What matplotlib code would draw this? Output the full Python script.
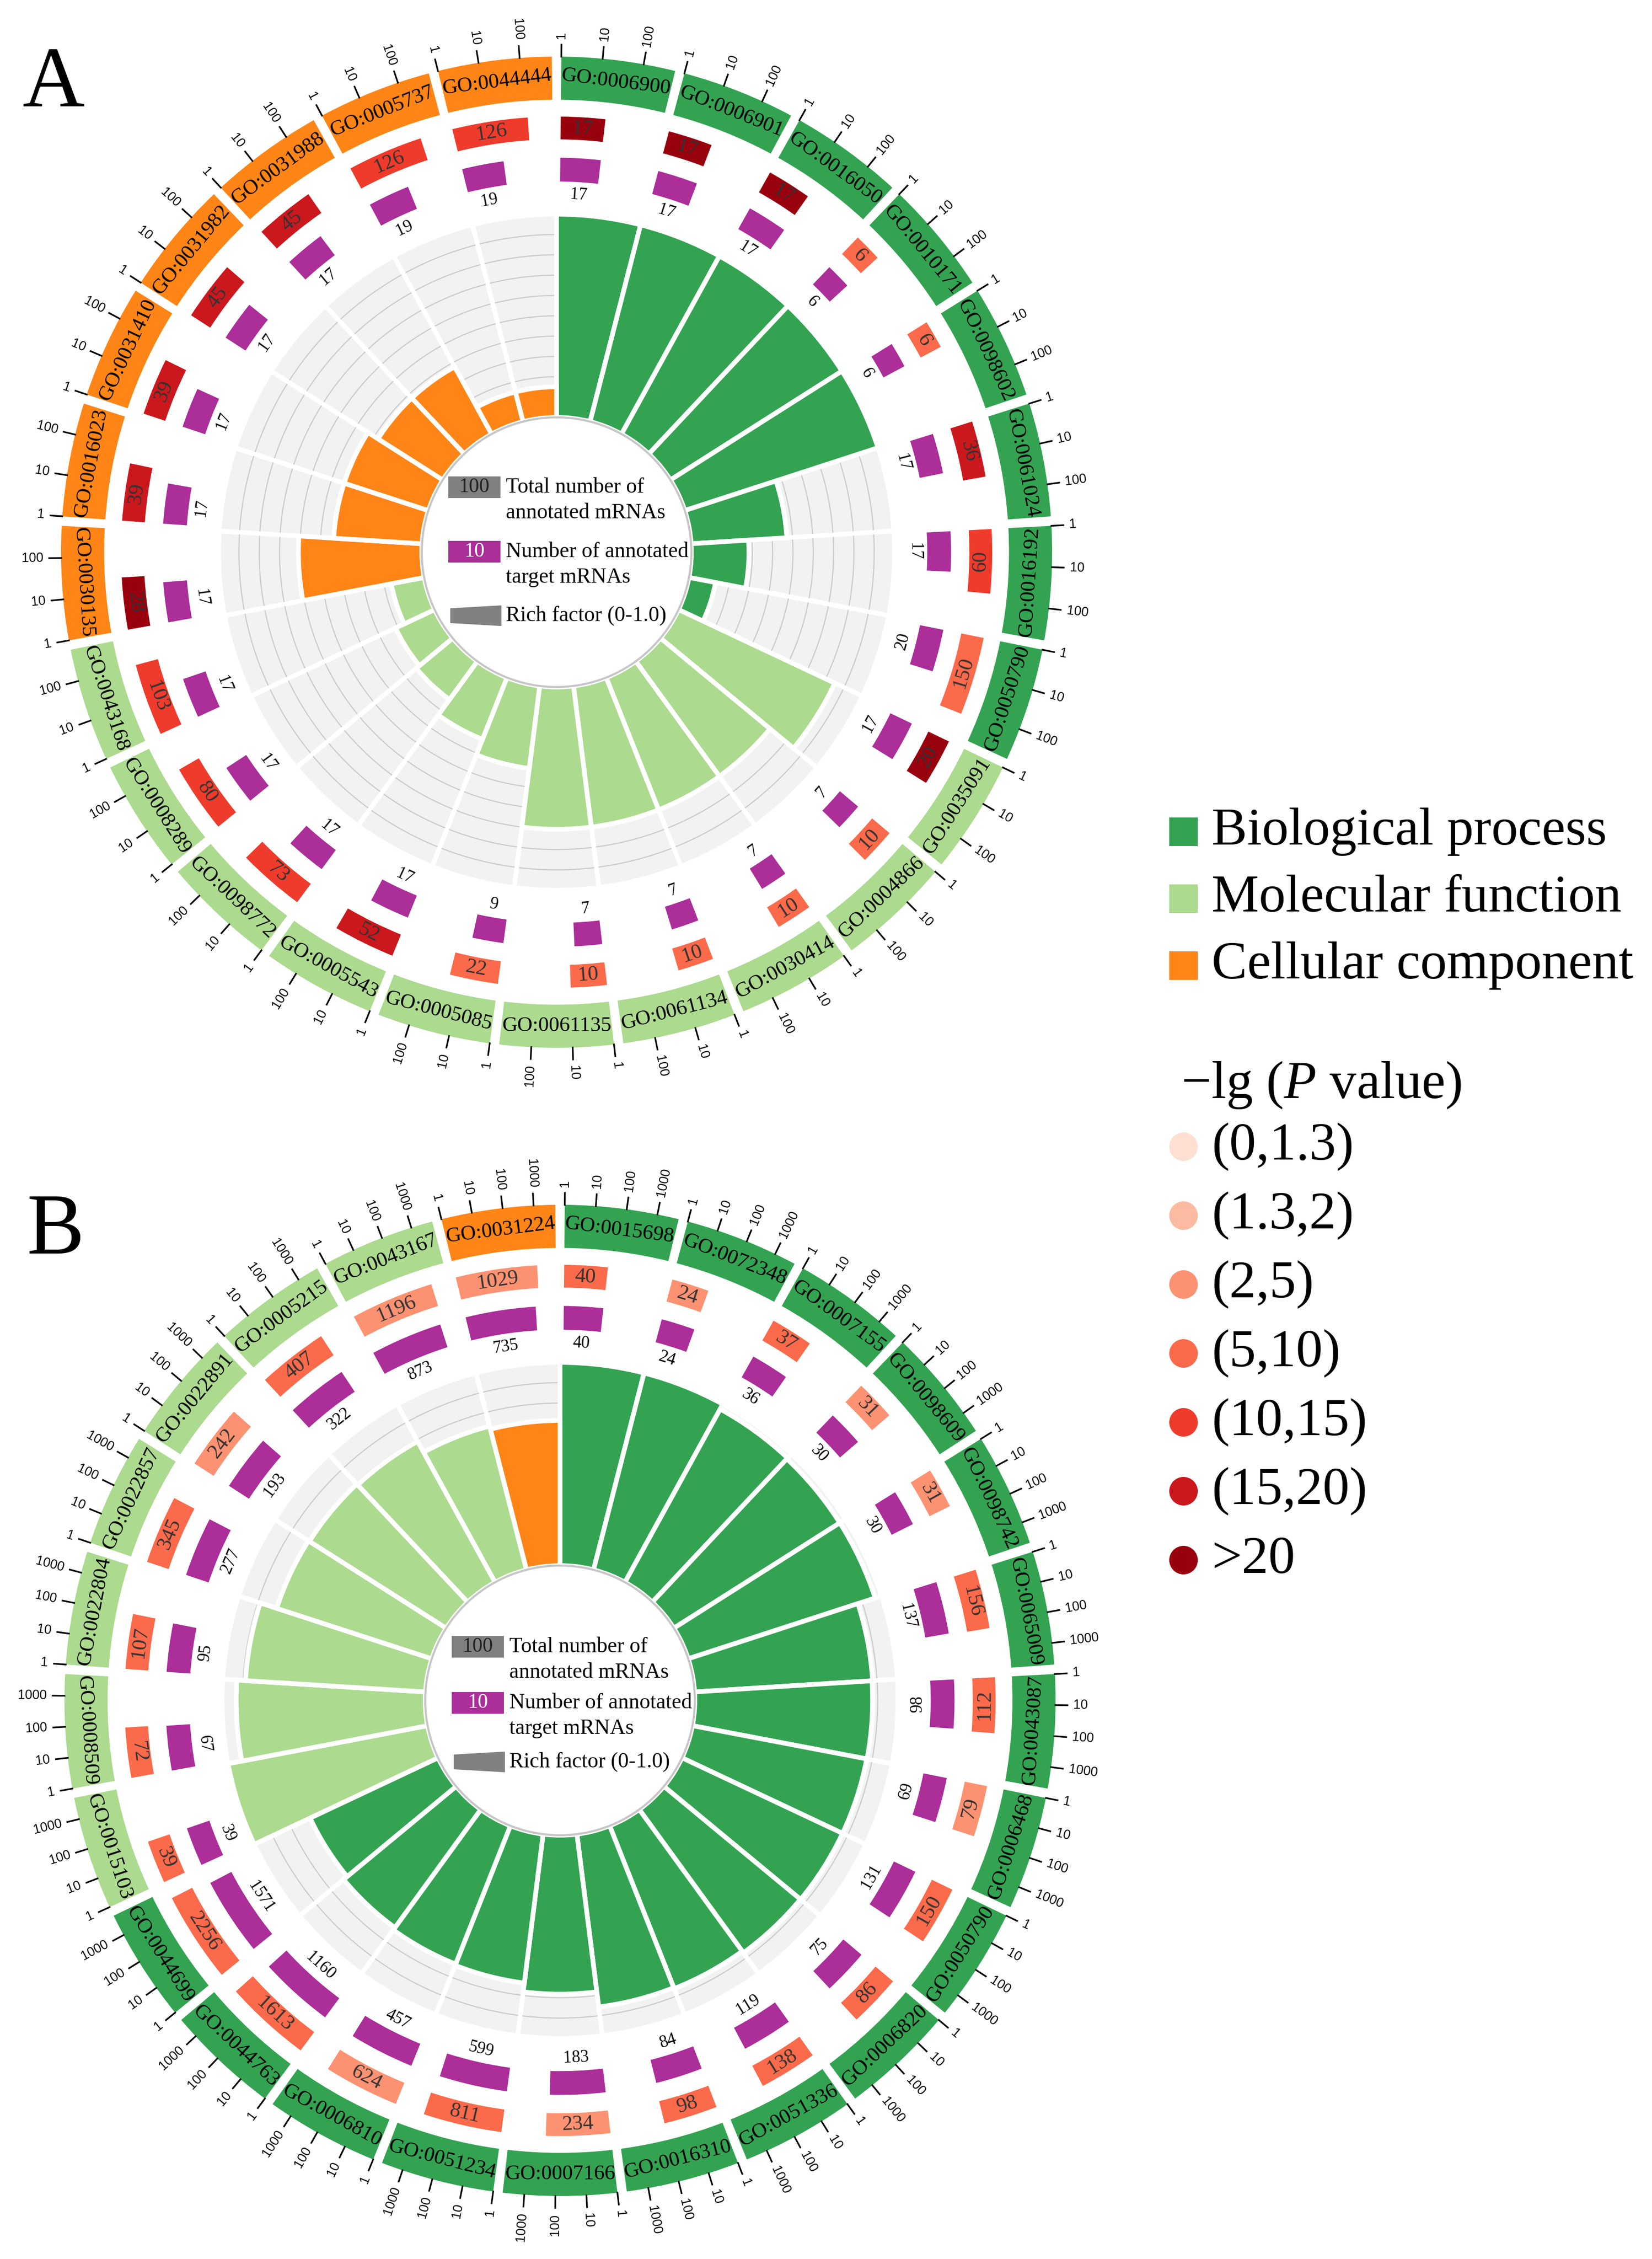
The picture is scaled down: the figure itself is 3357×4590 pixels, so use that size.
import numpy as np
import matplotlib.pyplot as plt
from matplotlib.patches import Rectangle, Circle, Polygon

plt.rcParams['font.family'] = ['Liberation Serif', 'DejaVu Serif']
plt.rcParams['mathtext.fontset'] = 'custom'
plt.rcParams['mathtext.rm'] = 'Liberation Serif'
plt.rcParams['mathtext.it'] = 'Liberation Serif:italic'

W, H, DPI = 3357, 4590, 300

# ---------------- data ----------------
A_terms = ['GO:0006900', 'GO:0006901', 'GO:0016050', 'GO:0010171', 'GO:0098602',
           'GO:0061024', 'GO:0016192', 'GO:0050790',
           'GO:0035091', 'GO:0004866', 'GO:0030414', 'GO:0061134', 'GO:0061135',
           'GO:0005085', 'GO:0005543', 'GO:0098772', 'GO:0008289', 'GO:0043168',
           'GO:0030135', 'GO:0016023', 'GO:0031410', 'GO:0031982', 'GO:0031988',
           'GO:0005737', 'GO:0044444']
A_class = ['BP'] * 8 + ['MF'] * 10 + ['CC'] * 7
A_total = [17, 17, 17, 6, 6, 36, 60, 150,
           20, 10, 10, 10, 10, 22, 52, 73, 80, 103,
           28, 39, 39, 45, 45, 126, 126]
A_target = [17, 17, 17, 6, 6, 17, 17, 20,
            17, 7, 7, 7, 7, 9, 17, 17, 17, 17,
            17, 17, 17, 17, 17, 19, 19]
# index into the -lg(P) classes below
A_plevel = [6, 6, 6, 3, 3, 5, 4, 3,
            6, 3, 3, 3, 3, 3, 5, 4, 4, 4,
            6, 5, 5, 5, 5, 4, 4]
A_ticks = [1, 10, 100]

B_terms = ['GO:0015698', 'GO:0072348', 'GO:0007155', 'GO:0098609', 'GO:0098742',
           'GO:0065009', 'GO:0043087', 'GO:0006468', 'GO:0050790', 'GO:0006820',
           'GO:0051336', 'GO:0016310', 'GO:0007166', 'GO:0051234', 'GO:0006810',
           'GO:0044763', 'GO:0044699',
           'GO:0015103', 'GO:0008509', 'GO:0022804', 'GO:0022857', 'GO:0022891',
           'GO:0005215', 'GO:0043167',
           'GO:0031224']
B_class = ['BP'] * 17 + ['MF'] * 7 + ['CC']
B_total = [40, 24, 37, 31, 31, 156, 112, 79, 150, 86, 138, 98, 234, 811, 624, 1613, 2256,
           39, 72, 107, 345, 242, 407, 1196,
           1029]
B_target = [40, 24, 36, 30, 30, 137, 98, 69, 131, 75, 119, 84, 183, 599, 457, 1160, 1571,
            39, 67, 95, 277, 193, 322, 873,
            735]
B_plevel = [3, 2, 3, 2, 2, 3, 3, 2, 3, 3, 3, 3, 2, 3, 2, 3, 3,
            3, 3, 3, 3, 2, 3, 2,
            2]
B_ticks = [1, 10, 100, 1000]

cat_names = ['Biological process', 'Molecular function', 'Cellular component']
cat_keys = ['BP', 'MF', 'CC']
p_labels = ['(0,1.3)', '(1.3,2)', '(2,5)', '(5,10)', '(10,15)', '(15,20)', '>20']

# ---------------- style ----------------
CAT_COLORS = {'BP': '#33a352', 'MF': '#acda8f', 'CC': '#fe8516'}
P_COLORS = ['#fee0d2', '#fcbba1', '#fc9272', '#fb6a4a', '#ef3b2c', '#cb181d', '#99000d']
PURPLE = '#ab2e99'

R_PX = 1007          # pixel radius of outer edge of the category band
RLIM = 1.12
R_IN = 0.272
R_RICH = 0.682
R_PUR = (0.748, 0.796)
R_PUR_LAB = 0.722
R_RED = (0.833, 0.879)
R_BAND = (0.913, 1.0)
R_TICK = (1.0, 1.024)
R_TLAB = 1.036
GAP_LW = 2.3

fig = plt.figure(figsize=(W / DPI, H / DPI), dpi=DPI)


def tan_rot(phi):
    phi = phi % 360
    rot = -phi
    if 90 < phi < 270:
        rot += 180
    return rot


def rad_rot(phi):
    phi = phi % 360
    if phi < 180:
        return 90 - phi, 'left'
    return 270 - phi, 'right'


def draw_panel(cx, cy, terms, cls, total, target, plev, ticks, vmax):
    size = 2 * RLIM * R_PX
    ax = fig.add_axes([(cx - size / 2) / W, (H - cy - size / 2) / H, size / W, size / H],
                      projection='polar')
    ax.set_theta_zero_location('N')
    ax.set_theta_direction(-1)
    ax.set_ylim(0, RLIM)
    ax.set_axis_off()

    n = len(terms)
    seg = 2 * np.pi / n
    pad = np.deg2rad(0.55)
    usable = seg - 2 * pad
    starts = np.arange(n) * seg
    mids = starts + seg / 2
    total = np.array(total)
    target = np.array(target)
    rich = target / total
    fill = [CAT_COLORS[c] for c in cls]

    def span(v):
        return np.log10(v) / np.log10(vmax) * usable

    # rich factor track
    ax.bar(mids, R_RICH - R_IN, width=seg, bottom=R_IN, color='#f2f2f2',
           edgecolor='white', linewidth=GAP_LW, zorder=1)
    for s in starts:
        for lv in np.arange(1, 10) / 10:
            r = R_IN + lv * (R_RICH - R_IN)
            half = 5.5 / (r * R_PX)
            th = np.linspace(s + half, s + seg - half, 40)
            ax.plot(th, np.full_like(th, r), color='#cbcbcb', lw=0.55, zorder=1.5)
    ax.bar(mids, rich * (R_RICH - R_IN), width=seg, bottom=R_IN, color=fill,
           edgecolor='white', linewidth=GAP_LW, zorder=2)
    th = np.linspace(0, 2 * np.pi, 500)
    ax.plot(th, np.full_like(th, R_IN), color='#c6c6c6', lw=1.0, zorder=3)

    # total / target boxes
    tot_w = span(total)
    tar_w = span(target)
    ax.bar(starts + pad, R_RED[1] - R_RED[0], width=tot_w, bottom=R_RED[0], align='edge',
           color=[P_COLORS[p] for p in plev], linewidth=0, zorder=2)
    ax.bar(starts + pad, R_PUR[1] - R_PUR[0], width=tar_w, bottom=R_PUR[0], align='edge',
           color=PURPLE, linewidth=0, zorder=2)

    # category band
    ax.bar(mids, R_BAND[1] - R_BAND[0], width=usable, bottom=R_BAND[0], color=fill,
           linewidth=0, zorder=2)

    for i in range(n):
        phi = np.rad2deg(mids[i])
        ax.text(mids[i], (R_BAND[0] + R_BAND[1]) / 2, terms[i], fontsize=10.3,
                rotation=tan_rot(phi), rotation_mode='anchor', ha='center', va='center')
        tm = starts[i] + pad + tot_w[i] / 2
        ax.text(tm, (R_RED[0] + R_RED[1]) / 2, str(total[i]), fontsize=10.3, color='#333333',
                rotation=tan_rot(np.rad2deg(tm)), rotation_mode='anchor',
                ha='center', va='center')
        gm = starts[i] + pad + tar_w[i] / 2
        ax.text(gm, R_PUR_LAB, str(target[i]), fontsize=8.3,
                rotation=tan_rot(np.rad2deg(gm)), rotation_mode='anchor',
                ha='center', va='center')
        for t in ticks:
            tt = starts[i] + pad + span(t)
            ax.plot([tt, tt], list(R_TICK), color='black', lw=0.8, zorder=3)
            rot, ha = rad_rot(np.rad2deg(tt))
            ax.text(tt, R_TLAB, str(t), fontsize=6.4, family='Liberation Sans',
                    rotation=rot, rotation_mode='anchor', ha=ha, va='center')
    return ax


draw_panel(1131, 1122, A_terms, A_class, A_total, A_target, A_plevel, A_ticks, 600)
draw_panel(1138, 3455, B_terms, B_class, B_total, B_target, B_plevel, B_ticks, 5000)

# ---------------- overlay (legends, letters) ----------------
ov = fig.add_axes([0, 0, 1, 1])
ov.set_xlim(0, W)
ov.set_ylim(H, 0)
ov.set_axis_off()
ov.set_zorder(5)


def center_legend(cx, cy, dys):
    x0, x1 = cx - 220, cx - 114
    tx = cx - 103
    y = cy + dys[0]
    ov.add_patch(Rectangle((x0, y - 22), x1 - x0, 44, color='#808080', lw=0))
    ov.text((x0 + x1) / 2, y, '100', fontsize=10, color='#222222', ha='center', va='center')
    ov.text(tx, y, 'Total number of', fontsize=10.5, va='center')
    ov.text(tx, y + 52, 'annotated mRNAs', fontsize=10.5, va='center')
    y = cy + dys[1]
    ov.add_patch(Rectangle((x0, y - 22), x1 - x0, 44, color=PURPLE, lw=0))
    ov.text((x0 + x1) / 2, y, '10', fontsize=10, color='white', ha='center', va='center')
    ov.text(tx, y, 'Number of annotated', fontsize=10.5, va='center')
    ov.text(tx, y + 52, 'target mRNAs', fontsize=10.5, va='center')
    y = cy + dys[2]
    ov.add_patch(Polygon([(x0 + 4, y - 15), (x1 + 2, y - 21), (x1 + 2, y + 21), (x0 + 4, y + 15)],
                         closed=True, color='#808080', lw=0))
    ov.text(tx, y, 'Rich factor (0-1.0)', fontsize=10.5, va='center')


center_legend(1131, 1122, [-132, -1, 129])
center_legend(1138, 3455, [-109, 5, 125])

ov.text(45, 216, 'A', fontsize=42, ha='left', va='baseline')
ov.text(55, 2547, 'B', fontsize=42, ha='left', va='baseline')

# category legend
for k, (key, name) in enumerate(zip(cat_keys, cat_names)):
    y = 1690 + k * 136
    ov.add_patch(Rectangle((2376, y - 29), 58, 58, color=CAT_COLORS[key], lw=0))
    ov.text(2462, y, name, fontsize=26, va='center')

ov.text(2400, 2205, '\u2212lg ($\\mathit{P}$ value)', fontsize=26, va='center')
for k, lab in enumerate(p_labels):
    y = 2330 + k * 140
    ov.add_patch(Circle((2405, y), 29, color=P_COLORS[k], lw=0))
    ov.text(2462, y, lab, fontsize=26, va='center')

fig.savefig('out.png', dpi=DPI)
